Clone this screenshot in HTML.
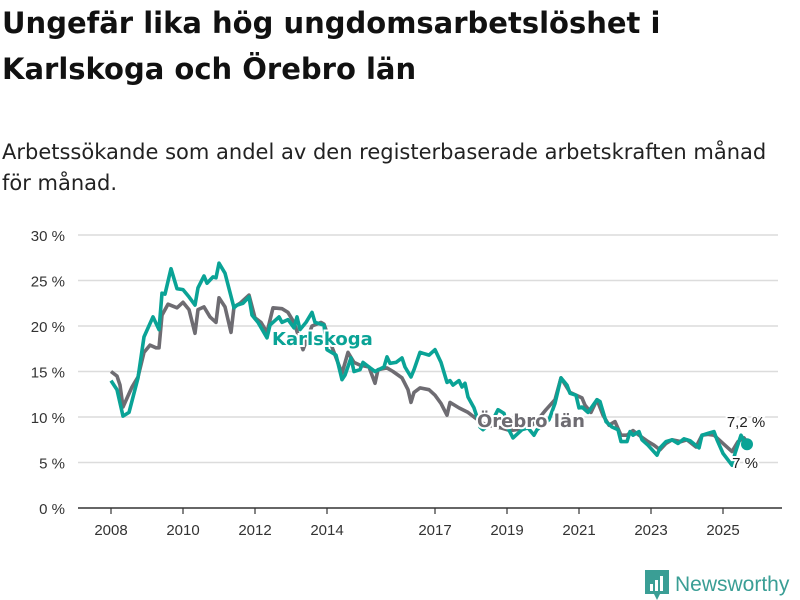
<!DOCTYPE html>
<html><head><meta charset="utf-8"><style>
body{margin:0;width:800px;height:600px;background:#fff;font-family:"Liberation Sans","DejaVu Sans",sans-serif;overflow:hidden;position:relative;color:#111}
h1{position:absolute;left:2px;top:0;margin:0;font-family:"DejaVu Sans",sans-serif;font-size:29px;line-height:46px;font-weight:bold;width:700px}
.sub{position:absolute;left:2px;top:137px;font-family:"DejaVu Sans",sans-serif;font-size:21px;line-height:31px;color:#222;width:795px}
svg{position:absolute;left:0;top:0}
</style></head><body>
<h1>Ungefär lika hög ungdomsarbetslöshet i Karlskoga och Örebro län</h1>
<div class="sub">Arbetssökande som andel av den registerbaserade arbetskraften månad för månad.</div>
<svg id="chart" width="800" height="600"></svg>
<script>
const yTicks=[0,5,10,15,20,25,30];
const xTickYears=[2008,2010,2012,2014,2017,2019,2021,2023,2025];
const kMonths=[0,2,4,6,9,11,14,16,17,18,20,22,24,26,28,29,31,32,34,35,36,38,41,42,44,46,47,49,52,53,56,57,59,61,62,63,65,67,68,71,72,75,77,78,80,81,83,84,86,88,91,92,93,95,97,98,100,101,103,104,106,108,110,112,113,114,116,117,118,119,121,122,123,124,127,129,131,132,134,137,139,141,142,146,148,150,152,153,155,156,157,159,162,163,165,167,169,170,172,173,174,176,177,179,182,183,185,187,189,191,193,196,197,199,201,202,204,207,208,210,211,212];
const kValues=[14.0,13.0,10.1,10.5,14.3,18.8,21.0,19.6,23.6,23.5,26.3,24.1,24.0,23.2,22.3,24.2,25.5,24.7,25.4,25.3,26.9,25.8,22.0,22.3,22.5,23.2,21.2,20.4,18.7,20.1,21.0,20.4,20.7,19.8,21.0,19.6,20.4,21.5,20.4,20.1,17.4,16.8,14.1,14.6,16.5,15.0,15.2,16.0,15.5,15.0,15.5,16.6,15.9,16.0,16.5,15.5,14.4,15.2,17.1,17.0,16.8,17.4,16.0,13.8,14.0,13.5,14.0,13.3,13.7,12.2,11.0,10.0,8.9,8.6,9.5,10.8,10.4,9.0,7.7,8.6,8.8,8.0,8.6,9.7,11.5,14.3,13.5,12.6,12.4,11.0,11.1,10.5,11.9,11.7,9.5,8.9,8.6,7.3,7.3,8.4,8.0,8.4,7.5,6.9,5.8,6.6,7.3,7.5,7.1,7.6,7.4,6.6,8.0,8.2,8.4,7.5,6.0,4.7,6.0,8.0,7.4,7.0];
const oMonths=[0,2,3,4,7,9,11,13,15,16,17,19,22,24,26,28,29,31,33,35,36,38,40,41,43,46,48,50,52,54,57,59,61,64,67,70,71,74,77,79,81,83,86,88,89,92,94,97,99,100,101,103,106,108,110,112,113,116,119,121,124,127,130,133,137,140,143,145,148,150,153,157,158,160,162,164,166,168,170,172,174,176,179,181,183,185,187,190,192,195,197,199,201,204,207,209,211,212];
const oValues=[15.0,14.5,13.5,11.1,13.3,14.4,17.1,17.9,17.6,17.6,21.2,22.4,22.0,22.6,21.8,19.2,21.8,22.1,21.0,20.4,23.1,22.1,19.3,22.1,22.5,23.4,20.9,20.4,19.3,22.0,21.9,21.5,20.4,17.4,20.0,20.4,20.2,17.4,14.8,17.1,16.0,15.7,15.5,13.7,15.2,15.4,15.0,14.3,13.0,11.6,12.7,13.2,13.0,12.4,11.5,10.2,11.6,11.0,10.5,10.0,9.3,9.0,8.8,8.5,8.7,9.0,10.0,10.8,11.9,14.3,12.7,12.1,11.3,10.5,11.9,10.2,9.1,9.5,8.0,8.0,8.5,8.0,7.3,6.9,6.4,7.1,7.5,7.3,7.5,6.7,8.0,8.1,8.0,7.1,6.2,7.3,7.7,7.2];
const NS='http://www.w3.org/2000/svg';
const svg=document.getElementById('chart');
const X0=111,PX_M=3,Y0=508,PX_V=9.1;
function xs(m){return X0+PX_M*m;}
function ys(v){return Y0-PX_V*v;}
function mk(t,a){const e=document.createElementNS(NS,t);for(const k in a)e.setAttribute(k,a[k]);svg.appendChild(e);return e;}
yTicks.forEach(v=>{
  if(v>0){const g=mk('line',{x1:78,x2:778,y1:ys(v),y2:ys(v),stroke:'#dcdcdc','stroke-width':1.5});
  
  }
  const t=mk('text',{x:65,y:ys(v)+6,'text-anchor':'end','font-size':15,fill:'#333'});t.textContent=v+' %';
  
  
});
const ax=mk('line',{x1:78,x2:782,y1:Y0,y2:Y0,stroke:'#333','stroke-width':1.5});


xTickYears.forEach(yr=>{
  const x=xs((yr-2008)*12);
  const tk=mk('line',{x1:x,x2:x,y1:Y0,y2:Y0+6,stroke:'#333','stroke-width':1.2});
  
  
  const t=mk('text',{x:x,y:535,'text-anchor':'middle','font-size':15,fill:'#333'});t.textContent=yr;
  
  
});
function line(ms,vs,col,name){
  const d=ms.map((m,i)=>(i?'L':'M')+xs(m).toFixed(1)+' '+ys(vs[i]).toFixed(1)).join(' ');
  const p=mk('path',{d:d,fill:'none',stroke:col,'stroke-width':3.6,'stroke-linejoin':'round'});
  
  
}
line(oMonths,oValues,'#6e6c72','line-orebro-lan');
line(kMonths,kValues,'#0aa396','line-karlskoga');
function lbl(x,y,txt,col,name,anchor,size,bold){
  const a={x:x,y:y,'text-anchor':anchor,'font-size':size,fill:col,stroke:'#fff','stroke-width':4,'paint-order':'stroke'};
  if(bold){a['font-weight']='bold';a['font-family']='DejaVu Sans, sans-serif';}
  const t=mk('text',a);t.textContent=txt;
  
  
}
lbl(272,345,'Karlskoga','#0aa396','label-karlskoga','start',18,true);
lbl(477,427,'Örebro län','#6e6c72','label-orebro-lan','start',18,true);
const lk=kMonths.length-1,lo=oMonths.length-1;
const dot=mk('circle',{cx:xs(kMonths[lk]),cy:ys(kValues[lk]),r:6,fill:'#0aa396'});


lbl(746,427,String(oValues[lo]).replace('.',',')+' %','#222','orebro-end-value','middle',15,false);
lbl(745,468,String(kValues[lk]).replace('.',',')+' %','#222','karlskoga-end-value','middle',15,false);
</script>
<div style="position:absolute;left:645px;top:570px;display:flex;align-items:center">
<svg width="24" height="30" style="position:static" viewBox="0 0 24 30"><path d="M0 0H24V24H15L12 30 9 24H0Z" fill="#3a9e95"/><rect x="5" y="14" width="3" height="7" fill="#fff"/><rect x="10" y="10" width="3" height="11" fill="#fff"/><rect x="15" y="6" width="3" height="15" fill="#fff"/></svg>
<span style="color:#3a9e95;font-size:21px;margin-left:6px">Newsworthy</span></div>
</body></html>
